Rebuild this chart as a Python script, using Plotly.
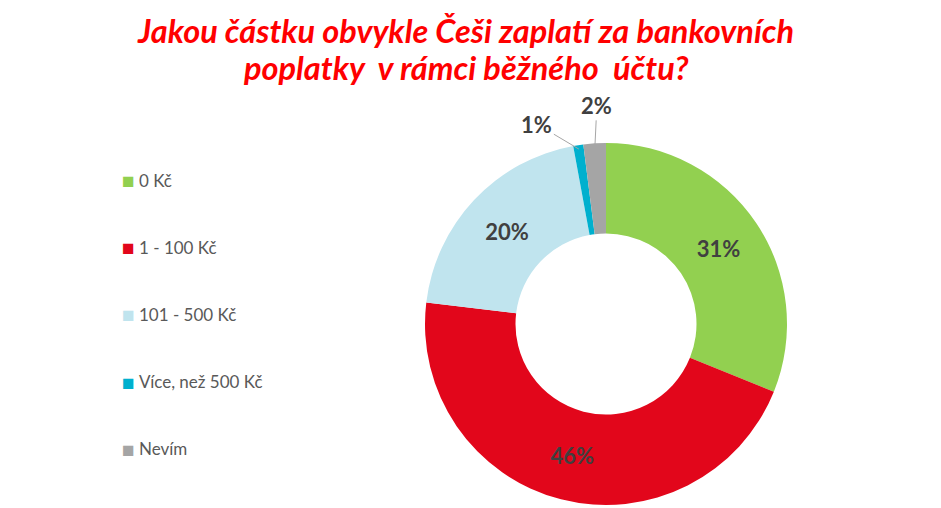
import math
import plotly.graph_objects as go

# Data
categories = ["0 Kč", "1 - 100 Kč", "101 - 500 Kč", "Více, než 500 Kč", "Nevím"]
shares = [31.1, 45.8, 20.2, 0.9, 2.0]
shown = ["31%", "46%", "20%", "1%", "2%"]
colors = ["#92D050", "#E2061B", "#C0E4EE", "#00B0CE", "#A5A5A5"]
title_lines = ["Jakou částku obvykle Češi zaplatí za bankovních",
               "poplatky  v rámci běžného  účtu?"]

FONT = "Lato, 'Open Sans', sans-serif"
W, H = 941, 508
OFF = 8  # page body margin pushes the figure right/down by this much


def px(x):
    return (x - OFF) / W


def py(y):
    return 1 - (y - OFF) / H


# donut placement (screen pixels) -> domain
CX, CY, R = 606, 324, 181
dom_x = [px(CX - R), px(CX + R)]
dom_y = [py(CY + R), py(CY - R)]

small = [s < 5 for s in shares]

fig = go.Figure()

fig.add_trace(go.Pie(
    labels=categories,
    values=shares,
    text=shown,
    textinfo="text",
    textposition=["none" if s else "inside" for s in small],
    insidetextorientation="horizontal",
    textfont=dict(family=FONT, size=22, color="#404040"),
    texttemplate="<b>%{text}</b>",
    marker=dict(colors=colors, line=dict(width=0)),
    hole=0.5,
    sort=False,
    direction="clockwise",
    rotation=0,
    showlegend=False,
    domain=dict(x=dom_x, y=dom_y),
))

fig.update_layout(
    width=W, height=H,
    margin=dict(l=0, r=0, t=0, b=0),
    paper_bgcolor="white",
    plot_bgcolor="white",
    showlegend=False,
)

# title, one annotation per line
for i, line in enumerate(title_lines):
    fig.add_annotation(
        text=f"<b><i>{line}</i></b>", showarrow=False,
        xref="paper", yref="paper", x=px(465), y=py(30 + 37 * i),
        xanchor="center", yanchor="middle",
        font=dict(family=FONT, size=32.5, color="#FF0000"),
    )

# legend drawn on the left with wide spacing
for i, (cat, col) in enumerate(zip(categories, colors)):
    y = py(180 + 67.2 * i)
    fig.add_annotation(text="■", showarrow=False, xref="paper", yref="paper",
                       x=px(128), y=y, xanchor="center", yanchor="middle",
                       font=dict(size=21, color=col))
    fig.add_annotation(text=cat, showarrow=False, xref="paper", yref="paper",
                       x=px(137), y=y, xanchor="left", yanchor="middle",
                       font=dict(family=FONT, size=17, color="#595959"))

# outside labels with leader lines for the thin slices
offsets = {3: (-42, -25), 4: (2, -42)}
total = sum(shares)
cum = 0.0
for i, s in enumerate(shares):
    mid = (cum + s / 2) / total * 2 * math.pi
    cum += s
    if not small[i]:
        continue
    tx = CX + (R - 4) * math.sin(mid)
    ty = CY - (R - 4) * math.cos(mid)
    ax, ay = offsets[i]
    fig.add_annotation(
        text=f"<b>{shown[i]}</b>", xref="paper", yref="paper",
        x=px(tx), y=py(ty), ax=ax, ay=ay,
        showarrow=True, arrowhead=0, arrowwidth=1, arrowcolor="#A6A6A6",
        font=dict(family=FONT, size=22, color="#404040"),
    )

fig.write_html("out.html")
